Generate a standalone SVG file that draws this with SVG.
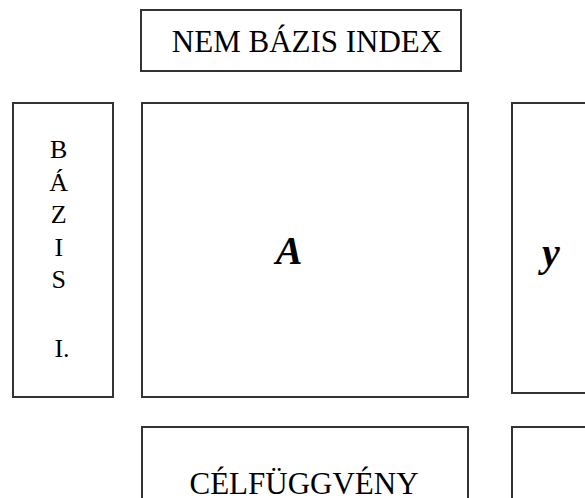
<svg xmlns="http://www.w3.org/2000/svg" width="585" height="498" viewBox="0 0 585 498">
<style>
.box{fill:#fff;stroke:#333;stroke-width:2}
.t{font-family:"Liberation Serif","Times New Roman",serif;fill:#000;text-anchor:middle}
.m{font-family:"Liberation Serif","Times New Roman",serif;fill:#000;text-anchor:middle;font-style:italic;font-weight:bold;font-size:40px}
</style>
<rect width="585" height="498" fill="#fff"/>
<g id="connectors"></g>
<g id="nem-bazis-index">
<rect class="box" x="141" y="10" width="320" height="61"/>
<text class="t" x="307" y="52" font-size="31">NEM BÁZIS INDEX</text>
</g>
<g id="bazis-index">
<rect class="box" x="13" y="103" width="100" height="294"/>
<text class="t" font-size="26">
<tspan x="62" y="158">B</tspan>
<tspan x="62" y="191">Á</tspan>
<tspan x="62" y="223">Z</tspan>
<tspan x="62" y="256">I</tspan>
<tspan x="62" y="288">S</tspan>
<tspan x="62" y="357">I.</tspan>
</text>
</g>
<g id="matrix-a">
<rect class="box" x="142" y="103" width="326" height="294"/>
<text class="m" x="289" y="264">A</text>
</g>
<g id="vector-y">
<rect class="box" x="512" y="103" width="80" height="290"/>
<text class="m" x="551" y="266">y</text>
</g>
<g id="celfuggveny">
<rect class="box" x="142" y="427" width="326" height="80"/>
<text class="t" x="304" y="494" font-size="31">CÉLFÜGGVÉNY</text>
</g>
<g id="bottom-right">
<rect class="box" x="512" y="427" width="80" height="80"/>
</g>
</svg>
